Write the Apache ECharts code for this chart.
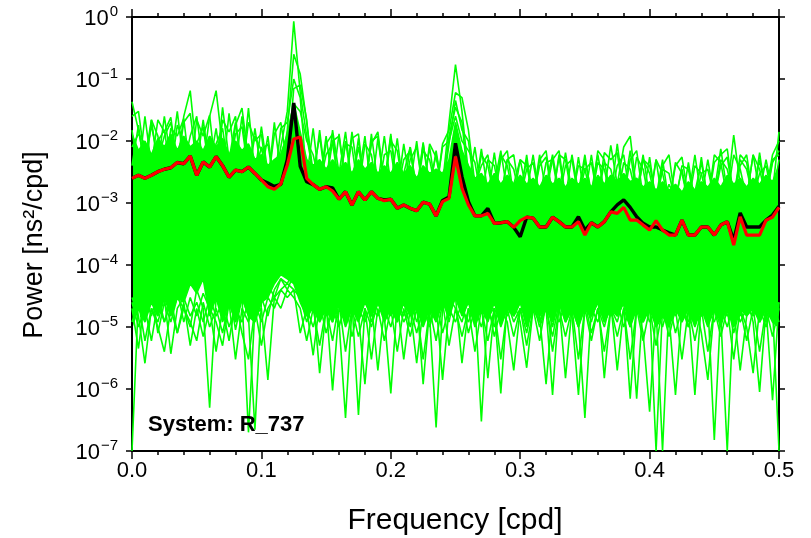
<!DOCTYPE html>
<html>
<head>
<meta charset="utf-8">
<script src="https://cdn.jsdelivr.net/npm/echarts@6/dist/echarts.min.js"></script>
<style>html,body{margin:0;padding:0;background:#fff}#c{width:811px;height:538px}</style>
</head>
<body>
<div id="c"></div>
<script>
// Frequency grid [cpd]
const freq = [0,0.005,0.01,0.015,0.02,0.025,0.03,0.035,0.04,0.045,
0.05,0.055,0.06,0.065,0.07,0.075,0.08,0.085,0.09,0.095,
0.1,0.105,0.11,0.115,0.12,0.125,0.13,0.135,0.14,0.145,
0.15,0.155,0.16,0.165,0.17,0.175,0.18,0.185,0.19,0.195,
0.2,0.205,0.21,0.215,0.22,0.225,0.23,0.235,0.24,0.245,
0.25,0.255,0.26,0.265,0.27,0.275,0.28,0.285,0.29,0.295,
0.3,0.305,0.31,0.315,0.32,0.325,0.33,0.335,0.34,0.345,
0.35,0.355,0.36,0.365,0.37,0.375,0.38,0.385,0.39,0.395,
0.4,0.405,0.41,0.415,0.42,0.425,0.43,0.435,0.44,0.445,
0.45,0.455,0.46,0.465,0.47,0.475,0.48,0.485,0.49,0.495,0.5];

const xTickLabels = ['0.0','0.1','0.2','0.3','0.4','0.5'];
const yTickExponents = ['−7','−6','−5','−4','−3','−2','−1','0'];

// Red spectrum
const redPower = [2.5e-3,2.8e-3,2.5e-3,2.8e-3,3.2e-3,3.5e-3,3.7e-3,4.5e-3,4.3e-3,5.7e-3,
2.8e-3,4.6e-3,3.8e-3,5.6e-3,4e-3,2.6e-3,3.4e-3,3.2e-3,3.8e-3,3e-3,
2.35e-3,1.83e-3,1.66e-3,2.03e-3,4.1e-3,1.08e-2,1.16e-2,2.5e-3,1.98e-3,1.66e-3,
1.83e-3,1.56e-3,1.15e-3,1.52e-3,9.3e-4,1.52e-3,1.12e-3,1.52e-3,1.19e-3,1.09e-3,
1.15e-3,8.2e-4,9.3e-4,8.2e-4,7.5e-4,1.03e-3,9.6e-4,6.2e-4,1.05e-3,1.19e-3,
5.6e-3,1.73e-3,9.3e-4,6.2e-4,6.2e-4,6.8e-4,4.7e-4,4.8e-4,5e-4,4.05e-4,
5.2e-4,5.9e-4,5.7e-4,4.1e-4,4.1e-4,5.9e-4,5e-4,4.1e-4,4.1e-4,5e-4,
3.04e-4,4.8e-4,4.1e-4,5e-4,7.2e-4,6.8e-4,8.5e-4,5.3e-4,5.3e-4,4.4e-4,
3.66e-4,5.2e-4,3.66e-4,3.04e-4,3.04e-4,5.3e-4,3.04e-4,3.04e-4,4.1e-4,4.1e-4,
3.04e-4,4.4e-4,5e-4,2.1e-4,6e-4,3.04e-4,3.04e-4,3.04e-4,5.3e-4,5.9e-4,8.5e-4];

// Black spectrum
const blackPower = [2.5e-3,2.8e-3,2.5e-3,2.8e-3,3.2e-3,3.5e-3,3.7e-3,4.5e-3,4.3e-3,5.7e-3,
2.8e-3,4.6e-3,3.8e-3,5.6e-3,4e-3,2.6e-3,3.4e-3,3.2e-3,3.8e-3,3e-3,
2.35e-3,2.1e-3,1.85e-3,2e-3,5e-3,4.1e-2,3.9e-3,2.2e-3,1.98e-3,1.66e-3,
1.83e-3,1.75e-3,1.15e-3,1.52e-3,9.3e-4,1.52e-3,1.12e-3,1.52e-3,1.19e-3,1.12e-3,
1.15e-3,8.2e-4,9.3e-4,8.2e-4,7.5e-4,1.03e-3,9.6e-4,6.2e-4,1.1e-3,1.25e-3,
9.2e-3,2.66e-3,1.05e-3,6.2e-4,6.2e-4,8.2e-4,4.7e-4,4.8e-4,5e-4,4.05e-4,
2.85e-4,5.9e-4,5.7e-4,4.1e-4,4.1e-4,5.9e-4,5e-4,4.1e-4,4.1e-4,6e-4,
3.66e-4,4.8e-4,4.1e-4,5e-4,7.2e-4,9.3e-4,1.12e-3,8.5e-4,6e-4,4.7e-4,
4.1e-4,4.1e-4,3.66e-4,3.3e-4,3.04e-4,5.3e-4,3.04e-4,3.04e-4,4.1e-4,4.1e-4,
3.04e-4,4.4e-4,5e-4,2.5e-4,6.9e-4,4.1e-4,4.1e-4,4.1e-4,5.3e-4,6.4e-4,8.9e-4];

// Green realisations: upper and lower edge of the dense bundle
const greenTop = [1.3e-2,7e-3,1e-2,6e-3,1.1e-2,8e-3,1.3e-2,7e-3,1.2e-2,8e-3,
1e-2,7e-3,1.2e-2,8e-3,1.1e-2,6e-3,1e-2,7e-3,9e-3,5e-3,
6e-3,4e-3,5e-3,6e-3,1.2e-2,4e-2,1.4e-2,5e-3,4e-3,5e-3,
3.5e-3,5e-3,3.5e-3,4.5e-3,3e-3,5e-3,3.5e-3,4.5e-3,3e-3,4e-3,
3e-3,4.5e-3,3e-3,4e-3,2.5e-3,4e-3,3e-3,3.5e-3,3e-3,5e-3,
2e-2,7e-3,4e-3,2.5e-3,3e-3,2e-3,3e-3,2e-3,2.8e-3,2e-3,
2.8e-3,2e-3,2.5e-3,1.8e-3,2.8e-3,2e-3,2.5e-3,1.8e-3,2.5e-3,2e-3,
2.5e-3,1.8e-3,2.8e-3,2e-3,2.8e-3,2.2e-3,3e-3,2.2e-3,2.5e-3,1.8e-3,
2.2e-3,1.6e-3,2.2e-3,1.6e-3,2e-3,1.5e-3,2.2e-3,1.6e-3,2.2e-3,1.8e-3,
2.5e-3,1.8e-3,2.8e-3,2e-3,2.5e-3,1.8e-3,2.5e-3,2e-3,2.8e-3,2.2e-3,4e-3];

const greenBottom = [1e-5,2e-5,1.2e-5,2.5e-5,1.5e-5,3e-5,1.5e-5,3e-5,2.5e-5,5e-5,
3.5e-5,6e-5,1.5e-5,3e-5,1.2e-5,2.5e-5,1.2e-5,3e-5,1.5e-5,1.2e-5,
2.5e-5,3e-5,5e-5,7e-5,6e-5,5e-5,2.5e-5,1.5e-5,2e-5,1.2e-5,
2e-5,1.2e-5,2.5e-5,1e-5,2e-5,1.2e-5,2.5e-5,1.5e-5,2.5e-5,1.2e-5,
2e-5,1.2e-5,2.5e-5,1.5e-5,2e-5,1e-5,2e-5,1.2e-5,2.5e-5,1.5e-5,
3e-5,1.5e-5,2.5e-5,1e-5,2e-5,1.2e-5,2.5e-5,1e-5,2e-5,1.5e-5,
2.5e-5,1e-5,2e-5,1.5e-5,2e-5,1.2e-5,2.5e-5,1.2e-5,2e-5,1e-5,
2e-5,1.5e-5,2.5e-5,1.2e-5,2e-5,1.5e-5,2.5e-5,1e-5,2e-5,1.2e-5,
2e-5,1e-5,1.5e-5,1e-5,2e-5,1.2e-5,2e-5,1e-5,2e-5,1e-5,
2e-5,1.2e-5,2e-5,1e-5,2e-5,1.5e-5,2e-5,1.2e-5,2e-5,1.2e-5,1e-5];

// Individual green realisations that stick out above the bundle
const greenUp1 = [4.3e-2,1.5e-2,4e-3,1.8e-2,5e-3,1.2e-2,2e-2,4e-3,2.5e-2,6.5e-2,
6e-3,4e-3,2.5e-2,6.5e-2,8e-3,3e-3,1.8e-2,3.4e-2,5e-3,3e-3,
1.7e-2,3e-3,2e-3,8e-3,3e-2,8.5e-1,6e-2,1.2e-2,3e-3,1.2e-2,
2e-3,1.5e-2,3e-3,1.4e-2,2e-3,8e-3,2e-3,9e-3,1.4e-2,2e-3,
1.2e-2,2e-3,3e-3,8e-3,1.5e-3,9e-3,2e-3,6e-3,2e-3,2e-2,
1.7e-1,3e-2,3e-3,1.5e-3,7.5e-3,1.5e-3,2e-3,7e-3,1.5e-3,2e-3,
5e-3,1.5e-3,6e-3,1.2e-3,2e-3,6e-3,1.5e-3,6.5e-3,1.5e-3,1.2e-3,
5e-3,1.5e-3,6e-3,1.5e-3,8.5e-3,2e-3,8e-3,1.2e-2,1.5e-3,6e-3,
1.2e-3,5e-3,1e-3,2e-3,1.2e-3,3.5e-3,1e-3,1.5e-3,4.5e-3,1.2e-3,
1.5e-3,7.5e-3,1.5e-3,1.25e-2,2e-3,1.2e-3,6e-3,1.5e-3,5e-3,1.5e-3,1.4e-2];

const greenUp2 = [2.5e-2,3e-2,5e-3,2.2e-2,4e-3,2.5e-2,5e-3,3e-2,4e-3,1.2e-2,
2.5e-2,4e-3,1.2e-2,3e-3,3.5e-2,5e-3,2e-2,3e-3,3.4e-2,3e-3,
8e-3,2e-3,2e-2,3e-3,1.5e-2,2.5e-1,1.2e-1,2e-2,3e-3,2e-3,
1.2e-2,2e-3,1.3e-2,2e-3,1.4e-2,2.5e-3,1.2e-2,1.5e-3,1.1e-2,2e-3,
1.3e-2,1.5e-3,9e-3,2e-3,1e-2,1.5e-3,8e-3,1.5e-3,9e-3,1.5e-2,
6e-2,5e-2,1.5e-2,2e-3,4e-3,6e-3,1.2e-3,5e-3,7e-3,1.2e-3,
1.5e-3,5e-3,1.2e-3,6e-3,1.5e-3,5e-3,7e-3,1.2e-3,6e-3,1.5e-3,
6e-3,1.2e-3,7e-3,5e-3,1.2e-3,9e-3,1.5e-3,7e-3,1.2e-3,5e-3,
4e-3,1.2e-3,5e-3,1e-3,4e-3,5.5e-3,1.2e-3,6e-3,1.2e-3,5e-3,
1.2e-3,4e-3,5.5e-3,1.2e-3,6e-3,4.5e-3,1.2e-3,5e-3,1.5e-3,6e-3,1e-2];

const greenUp3 = [1.5e-2,3e-3,2.5e-2,4e-3,2.2e-2,1.4e-2,2.4e-2,4e-3,2e-2,2.8e-2,
4e-3,2.2e-2,4e-3,1.6e-2,3e-3,2.8e-2,4e-3,2.5e-2,3e-3,1.6e-2,
3e-3,1.2e-2,2e-3,1.6e-2,2e-2,1e-1,5e-2,2.5e-3,1.6e-2,2e-3,
9e-3,1.3e-2,1.5e-3,1e-2,2e-3,1.1e-2,1.5e-3,1.3e-2,2e-3,1.2e-2,
2e-3,1.1e-2,1.5e-3,8e-3,1.5e-3,9.5e-3,1.5e-3,7e-3,1.5e-3,1.2e-2,
3.5e-2,2e-2,2e-3,8e-3,1.5e-3,1.2e-3,6.5e-3,1.2e-3,5e-3,6e-3,
1.2e-3,6e-3,1e-3,5e-3,7e-3,1.2e-3,5.5e-3,1.2e-3,1e-3,5.5e-3,
1.2e-3,6e-3,1.2e-3,6.5e-3,5e-3,6.5e-3,1.2e-3,5e-3,7e-3,1.2e-3,
5.5e-3,1e-3,4e-3,6e-3,1e-3,1e-3,4.5e-3,1e-3,5.5e-3,1e-3,
4.5e-3,6e-3,7.5e-3,1.2e-3,4e-3,6e-3,1.2e-3,6.5e-3,1.2e-3,4.5e-3,7e-3];

const greenUp4 = [4e-3,1.8e-2,3e-3,2.2e-2,1.2e-2,3e-3,1.6e-2,1.2e-2,2.3e-2,3e-3,
2.2e-2,1.2e-2,2.6e-2,3e-3,2.2e-2,1.4e-2,2.5e-2,3e-3,2e-2,1e-2,
1.3e-2,2e-3,1.3e-2,2e-2,4e-3,7e-2,8e-2,2.2e-2,2e-3,1.5e-2,
2e-3,1e-2,1.2e-2,2e-3,1.1e-2,1.3e-2,1.5e-3,1e-2,1.2e-2,2e-3,
1e-2,7e-3,1.5e-3,5e-3,8e-3,1.5e-3,9e-3,5.5e-3,1.5e-3,9e-3,
4.5e-2,1.5e-2,1e-2,1.5e-3,6e-3,4e-3,1.2e-3,6e-3,4e-3,1.2e-3,
5e-3,4e-3,1.2e-3,4e-3,5.5e-3,1.2e-3,6e-3,5e-3,1.2e-3,4e-3,
3.5e-3,1.2e-3,4.5e-3,3.5e-3,1.2e-3,4e-3,6e-3,1.2e-3,5.5e-3,3.5e-3,
1e-3,5e-3,3e-3,1e-3,4.5e-3,3e-3,1e-3,4e-3,3e-3,1e-3,
6e-3,4.5e-3,1.2e-3,6e-3,3.5e-3,1.2e-3,6e-3,3.5e-3,1.2e-3,5e-3,6e-3];

const greenUp5 = [8e-3,1.3e-2,9e-3,3e-3,1e-2,1.5e-2,3e-3,1.8e-2,1e-2,3e-3,
9e-3,1.7e-2,3e-3,9e-3,1.6e-2,3e-3,1.3e-2,1.7e-2,3e-3,1.2e-2,
7e-3,9e-3,2e-3,6e-3,1.3e-2,4e-2,3e-2,1e-2,6e-3,2e-3,
6e-3,9e-3,2e-3,9e-3,8e-3,1.5e-3,9e-3,6e-3,1.5e-3,6e-3,
7e-3,1.5e-3,5e-3,7e-3,1.5e-3,7e-3,5e-3,1.5e-3,8e-3,1e-2,
2.5e-2,1e-2,7e-3,4.5e-3,1.2e-3,5e-3,4e-3,1.2e-3,5e-3,3.5e-3,
1.2e-3,3.5e-3,4.5e-3,1.2e-3,4.5e-3,5e-3,1.2e-3,4e-3,5e-3,1.2e-3,
3.5e-3,4.5e-3,1.2e-3,4.5e-3,3.5e-3,1.2e-3,4.5e-3,3.5e-3,1.2e-3,5e-3,
3e-3,1e-3,3.5e-3,3e-3,1e-3,4e-3,3.5e-3,1e-3,3e-3,3.5e-3,
1.2e-3,5e-3,3.5e-3,1.2e-3,5e-3,3.5e-3,1.2e-3,3e-3,4e-3,1.2e-3,5e-3];

// Individual green realisations that dip below the bundle
const greenDown1 = [1e-7,3e-5,1.5e-5,4e-5,8e-6,2.5e-5,1.2e-5,3e-5,2e-5,1e-5,
4e-5,2e-5,5e-7,3e-5,1.5e-5,4e-5,9e-6,3e-5,1.5e-5,2.2e-7,
2.5e-5,5e-5,3e-5,6e-5,4e-5,7e-5,4e-5,1.5e-5,3e-5,1.8e-6,
2e-5,1.2e-5,3e-5,1.5e-5,2.5e-5,3.8e-7,2e-5,1e-5,2.5e-5,1.5e-5,
3e-5,1.2e-5,2.5e-5,1e-5,3e-5,1.2e-6,2e-5,1.5e-5,3e-5,1.2e-5,
4e-5,2e-5,1.2e-5,2.5e-5,3e-7,2e-5,1e-5,3e-5,1.5e-5,2.5e-5,
1.2e-5,2.2e-6,2e-5,1.2e-5,2.5e-5,1e-5,3e-5,1.5e-5,2.5e-5,1.2e-5,
3.4e-7,2e-5,1.2e-5,3e-5,1.5e-5,2.5e-5,1e-5,2e-5,7e-7,2.5e-5,
1.2e-5,2e-5,1e-7,2.5e-5,1.5e-5,3e-5,1e-5,2e-5,1.5e-5,2.5e-5,
1.5e-7,2e-5,1e-5,2.5e-5,1.5e-5,3e-5,1.2e-5,9e-7,2e-5,1.5e-5,2.5e-5];

const greenDown2 = [2e-5,4.5e-6,3e-5,1.5e-5,3.5e-5,1.2e-5,2.5e-5,4e-5,1.2e-5,3e-5,
1.5e-5,3.5e-5,2e-5,1.2e-5,5e-6,2.5e-5,1.2e-5,3e-5,2e-7,2e-5,
3e-5,1.5e-5,4e-5,6e-5,5e-5,8e-5,3e-5,2e-5,3.5e-6,2.5e-5,
1.5e-5,3e-5,1.2e-5,3.4e-7,2e-5,1.5e-5,3e-5,1.2e-5,2.5e-5,1.5e-5,
8.5e-7,2.5e-5,1.5e-5,3e-5,1.2e-5,2.5e-5,1.5e-5,2.4e-7,2e-5,3e-5,
2e-5,1.2e-5,3e-5,1.5e-5,2.5e-5,1.5e-6,2e-5,1.2e-5,3e-5,1.5e-5,
2.5e-5,1.5e-5,3e-5,1.2e-5,2e-5,8e-7,2.5e-5,1.2e-5,2e-5,1.5e-5,
2.5e-5,1.2e-5,3e-5,1.5e-6,2e-5,1.2e-5,3e-5,1.5e-5,2e-5,1.2e-5,
2.5e-5,1e-7,2e-5,1.2e-5,2.5e-5,1.5e-5,2e-5,8e-7,2.5e-5,1.2e-5,
2e-5,1.5e-5,1e-7,2.5e-5,1.2e-5,2e-5,1.5e-5,3e-5,1.2e-5,2e-5,1e-7];

const greenDown3 = [3e-5,1.5e-5,2.6e-6,2e-5,1.2e-5,3e-5,3.7e-6,2e-5,3e-5,1.5e-5,
2.5e-5,1.2e-5,3e-5,1.5e-5,2.5e-5,1e-5,2e-5,1.2e-5,2.5e-5,1.5e-5,
2e-5,1.4e-6,3e-5,4e-5,5e-5,4e-5,3e-5,1.2e-5,2.5e-5,1.5e-5,
2.5e-5,9.5e-7,2e-5,1.2e-5,2.5e-5,1.5e-5,1.2e-6,2e-5,1.5e-5,3e-5,
1.5e-5,2.5e-5,1.2e-5,2e-5,2.6e-6,2e-5,1.2e-5,2.5e-5,1.4e-6,2e-5,
3e-5,2.6e-6,2e-5,1.2e-5,2.5e-5,1.5e-5,2e-5,8.5e-7,2.5e-5,1.2e-5,
2e-5,1.5e-5,2.5e-5,1.5e-5,1.2e-6,2e-5,1.2e-5,2.5e-5,1.5e-5,8e-7,
2e-5,1.5e-5,2.5e-5,1.2e-5,2e-5,1.5e-5,2.5e-5,7e-7,2e-5,1.5e-5,
2e-5,1.2e-5,2.5e-5,1.5e-5,8e-7,2e-5,1.2e-5,2.5e-5,1.5e-5,2e-5,
1.2e-5,2.5e-5,1.5e-5,2e-5,2e-6,1.5e-5,2.5e-5,1.2e-5,2e-5,6.6e-7,2.5e-5];

const greenDown4 = [2.5e-5,1e-5,2e-5,6e-6,2.5e-5,1.2e-5,3e-5,8e-6,2e-5,1.2e-5,
6e-6,2.5e-5,1e-5,2e-5,8e-6,2.5e-5,3e-6,2e-5,1.2e-5,2.5e-5,
1.2e-5,3e-5,2e-5,4e-5,3e-5,4e-5,8e-6,2e-5,1e-5,2.5e-5,
8e-6,2e-5,1e-5,2.5e-5,7e-6,2e-5,1.2e-5,2.5e-5,2e-6,2e-5,
1e-5,2.5e-5,3e-6,2e-5,8e-6,2e-5,1e-5,2.5e-5,8e-6,2e-5,
1.2e-5,2.5e-5,8e-6,2e-5,1e-5,2.5e-5,7e-6,2e-5,1.2e-5,2e-6,
2e-5,8e-6,2.5e-5,1e-5,2e-5,7e-6,2.5e-5,1.5e-6,2e-5,1e-5,
2.5e-5,8e-6,2e-5,1e-5,2.5e-5,2e-6,2e-5,1e-5,2.5e-5,8e-6,
4.3e-7,2e-5,1e-5,2.5e-5,8e-6,2e-5,1e-5,2.5e-5,8e-6,1.4e-6,
2e-5,1e-5,2.5e-5,8e-6,2e-5,1e-5,1.8e-6,2e-5,1e-5,2.5e-5,1.2e-5];

const greenDown5 = [1.2e-5,2.5e-5,6e-6,2e-5,1e-5,4e-6,2e-5,8e-6,2.5e-5,5e-6,
2e-5,7e-6,2e-5,4e-6,2e-5,6e-6,2.5e-5,8e-6,3e-6,2e-5,
5e-6,2e-5,3e-5,2e-5,4e-5,3e-5,2e-5,6e-6,2e-5,5e-6,
2e-5,6e-6,2.5e-5,4e-6,2e-5,7e-6,2e-5,3e-6,2e-5,6e-6,
2e-5,4e-6,2e-5,7e-6,2e-5,3e-6,2e-5,6e-6,2.5e-5,5e-6,
2e-5,7e-6,2e-5,4e-6,2e-5,6e-6,2e-5,3e-6,2e-5,7e-6,
2e-5,5e-6,2e-5,6e-6,2.5e-5,4e-6,2e-5,7e-6,2e-5,3e-6,
2e-5,6e-6,2e-5,4e-6,2e-5,7e-6,2e-5,3e-6,2e-5,6e-6,
2e-5,5e-6,2e-5,7e-6,2e-5,3e-6,2e-5,6e-6,2e-5,4e-6,
2e-5,7e-6,2e-5,3e-6,2e-5,6e-6,2e-5,4e-6,2e-5,7e-6,2e-5];

const G = '#00ff00';
const FONT = '"Liberation Sans", Arial, Helvetica, sans-serif';
const pairs = arr => freq.map((f, i) => [f, arr[i]]);

const greenLines = [greenUp1, greenUp2, greenUp3, greenUp4, greenUp5,
                    greenDown1, greenDown2, greenDown3, greenDown4, greenDown5];

const series = [
  { type: 'line', data: pairs(greenTop), symbol: 'none', z: 1, silent: true,
    lineStyle: { color: G, width: 1.6 }, areaStyle: { color: G, opacity: 1, origin: 'start' } },
  { type: 'line', data: pairs(greenBottom), symbol: 'none', z: 1, silent: true,
    lineStyle: { color: G, width: 1.6 }, areaStyle: { color: '#ffffff', opacity: 1, origin: 'start' } }
];
greenLines.forEach(arr => series.push({
  type: 'line', data: pairs(arr), symbol: 'none', z: 3, silent: true,
  lineStyle: { color: G, width: 1.6 }
}));
series.push({ type: 'line', data: pairs(blackPower), symbol: 'none', z: 4,
  lineStyle: { color: '#000', width: 3.4 } });
series.push({ type: 'line', data: pairs(redPower), symbol: 'none', z: 5,
  lineStyle: { color: '#ff0000', width: 3.2 } });

const xBase = {
  type: 'value', min: 0, max: 0.5, interval: 0.1, z: 2,
  axisLine: { show: true, onZero: false, lineStyle: { color: '#000', width: 2 } },
  axisTick: { show: true, inside: false, length: 8, lineStyle: { color: '#000', width: 1.5 } },
  minorTick: { show: true, splitNumber: 5, length: 4, lineStyle: { color: '#000', width: 1.5 } },
  splitLine: { show: false }, minorSplitLine: { show: false }
};
const yBase = {
  type: 'log', logBase: 10, min: 1e-7, max: 1, interval: 1, z: 2,
  axisLine: { show: true, onZero: false, lineStyle: { color: '#000', width: 2 } },
  axisTick: { show: true, inside: false, length: 6, lineStyle: { color: '#000', width: 1.5 } },
  splitLine: { show: false }, minorTick: { show: false }
};

const chart = echarts.init(document.getElementById('c'), null, { renderer: 'canvas' });
chart.setOption({
  animation: false,
  backgroundColor: '#ffffff',
  grid: { left: 132, right: 32, top: 17, bottom: 87, containLabel: false },
  xAxis: [
    Object.assign({}, xBase, { position: 'bottom',
      axisLabel: { show: true, margin: 9, color: '#000', fontSize: 22, fontFamily: FONT,
        formatter: v => xTickLabels[Math.round(v * 10)] } }),
    Object.assign({}, xBase, { position: 'top', axisLabel: { show: false } })
  ],
  yAxis: [
    Object.assign({}, yBase, { position: 'left',
      axisLabel: { show: true, margin: 14, color: '#000', fontFamily: FONT,
        formatter: v => '{b|10}{s|' + yTickExponents[Math.round(Math.log10(v)) + 7] + '}',
        rich: {
          b: { fontSize: 22, lineHeight: 26, verticalAlign: 'bottom', fontFamily: FONT, color: '#000' },
          s: { fontSize: 15, lineHeight: 15, verticalAlign: 'top', fontFamily: FONT, color: '#000', padding: [0, 0, 0, 1] }
        } } }),
    Object.assign({}, yBase, { position: 'right', axisLabel: { show: false } })
  ],
  series: series,
  graphic: [
    { type: 'text', x: 148, y: 425, z: 100,
      style: { text: 'System: R_737', fontSize: 22, fontWeight: 'bold', fontFamily: FONT,
               fill: '#000', align: 'left', verticalAlign: 'middle' } },
    { type: 'text', x: 455, y: 521, z: 100,
      style: { text: 'Frequency [cpd]', fontSize: 30, fontFamily: FONT,
               fill: '#000', align: 'center', verticalAlign: 'middle' } },
    { type: 'text', x: 35, y: 245, rotation: Math.PI / 2, z: 100,
      style: { text: 'Power [ns²/cpd]', fontSize: 27, fontFamily: FONT,
               fill: '#000', align: 'center', verticalAlign: 'middle' } }
  ]
});
</script>
</body>
</html>
